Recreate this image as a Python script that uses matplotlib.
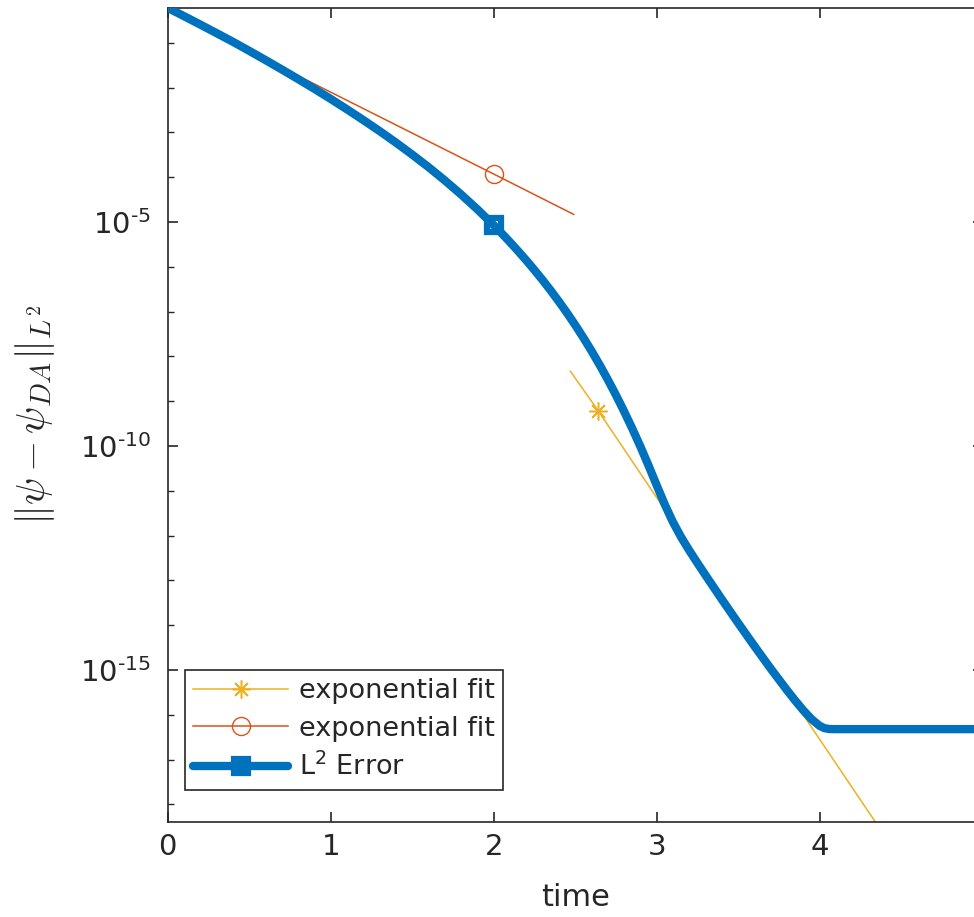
import matplotlib
import numpy as np

matplotlib.use('Agg')
from matplotlib import pyplot as plt
from matplotlib.ticker import FixedLocator, FuncFormatter, NullFormatter

# L2 error of the data-assimilated solution (log10 of the error)
err_time = [0.0, 0.1, 0.2, 0.3, 0.4, 0.5, 0.6, 0.7, 0.8, 0.9, 1.0,
            1.1, 1.2, 1.3, 1.4, 1.5, 1.6, 1.7, 1.8, 1.9, 2.0,
            2.05, 2.1, 2.15, 2.2, 2.25, 2.3, 2.35, 2.4, 2.45, 2.5,
            2.55, 2.6, 2.65, 2.7, 2.75, 2.8, 2.85, 2.9, 2.95, 3.0,
            3.05, 3.1, 3.15, 3.2, 3.25, 3.3, 3.4, 3.5, 3.6, 3.7,
            3.8, 3.85, 3.9, 3.95, 4.0, 4.03, 4.06, 4.1, 5.0]
err_log10 = [-0.220, -0.406, -0.594, -0.785, -0.978, -1.180, -1.386, -1.596,
             -1.810, -2.029, -2.254, -2.486, -2.725, -2.971, -3.228, -3.496,
             -3.776, -4.073, -4.386, -4.719, -5.073,
             -5.258, -5.451, -5.651, -5.858, -6.074, -6.298, -6.532, -6.777,
             -7.033, -7.301, -7.583, -7.880, -8.192, -8.520, -8.866, -9.230,
             -9.612, -10.015, -10.440, -10.880, -11.313, -11.703, -12.038,
             -12.335, -12.615, -12.889, -13.428, -13.955, -14.471, -14.974,
             -15.456, -15.686, -15.904, -16.099, -16.249, -16.300, -16.318,
             -16.320, -16.320]

# exponential fits (early and late decay)
fit_early_time = [0.61, 2.0, 2.49]
fit_early_log10 = [-1.39, -3.93, -4.83]
fit_late_time = [2.47, 2.64, 4.5]
fit_late_log10 = [-8.33, -9.21, -19.25]

blue = '#0072BD'
red = '#D95319'
yellow = '#EDB120'
dark = '#262626'

fig = plt.figure(figsize=(9.74, 9.17), dpi=100, facecolor='white')
ax = fig.add_axes([0.1722, 0.1036, 0.8368, 0.8877])

l_err, = ax.semilogy(err_time, 10.0 ** np.array(err_log10), color=blue, linewidth=6,
                     marker='s', markersize=10, markeredgewidth=4.5, markerfacecolor='none',
                     markevery=[err_time.index(2.0)], solid_capstyle='round',
                     solid_joinstyle='round', zorder=3, label='L$^2$ Error')
l_early, = ax.semilogy(fit_early_time, 10.0 ** np.array(fit_early_log10), color=red,
                       linewidth=1.1, marker='o', markersize=13, markeredgewidth=1,
                       markerfacecolor='none', markevery=[1], zorder=2,
                       label='exponential fit')
l_late, = ax.semilogy(fit_late_time, 10.0 ** np.array(fit_late_log10), color=yellow,
                      linewidth=1.1, marker=(8, 2, 0), markersize=13, markeredgewidth=1.1,
                      markevery=[1], zorder=2, label='exponential fit')

ax.set_xlim(0, 5)
ax.set_ylim(10 ** -18.393, 10 ** -0.223)

ax.xaxis.set_major_locator(FixedLocator([0, 1, 2, 3, 4]))
ax.yaxis.set_major_locator(FixedLocator([1e-15, 1e-10, 1e-5, 1e0]))
ax.yaxis.set_minor_locator(FixedLocator([10.0 ** k for k in range(-19, 1)]))
ax.yaxis.set_minor_formatter(NullFormatter())
ax.yaxis.set_major_formatter(
    FuncFormatter(lambda v, p: r'$10^{\text{-}%d}$' % abs(round(np.log10(v)))))

for side in ['top', 'bottom', 'left', 'right']:
    ax.spines[side].set_color(dark)
    ax.spines[side].set_linewidth(1.2)

ax.tick_params(which='both', direction='in', top=True, right=True, colors=dark,
               labelsize=21)
ax.tick_params(which='major', length=7, width=1.2, pad=8)
ax.tick_params(which='minor', length=4, width=1.0)
ax.tick_params(axis='y', which='major', pad=12)

ax.set_xlabel('time', fontsize=22, color=dark, labelpad=16)
ax.set_ylabel(r'$\|\psi - \psi_{DA}\|_{L^2}$', fontsize=29, color=dark,
              math_fontfamily='cm')
ax.yaxis.set_label_coords(-0.136, 0.5)

leg = ax.legend(handles=[l_late, l_early, l_err], loc='upper left',
                bbox_to_anchor=(0.0212, 0.1867), fontsize=19.5, handlelength=3.5,
                handletextpad=0.4, labelspacing=0.42, borderaxespad=0,
                borderpad=0.3, fancybox=False, framealpha=1, edgecolor=dark)
leg.get_frame().set_linewidth(1.2)
for t in leg.get_texts():
    t.set_color(dark)

plt.savefig('out.png', dpi=100, facecolor=fig.get_facecolor())
